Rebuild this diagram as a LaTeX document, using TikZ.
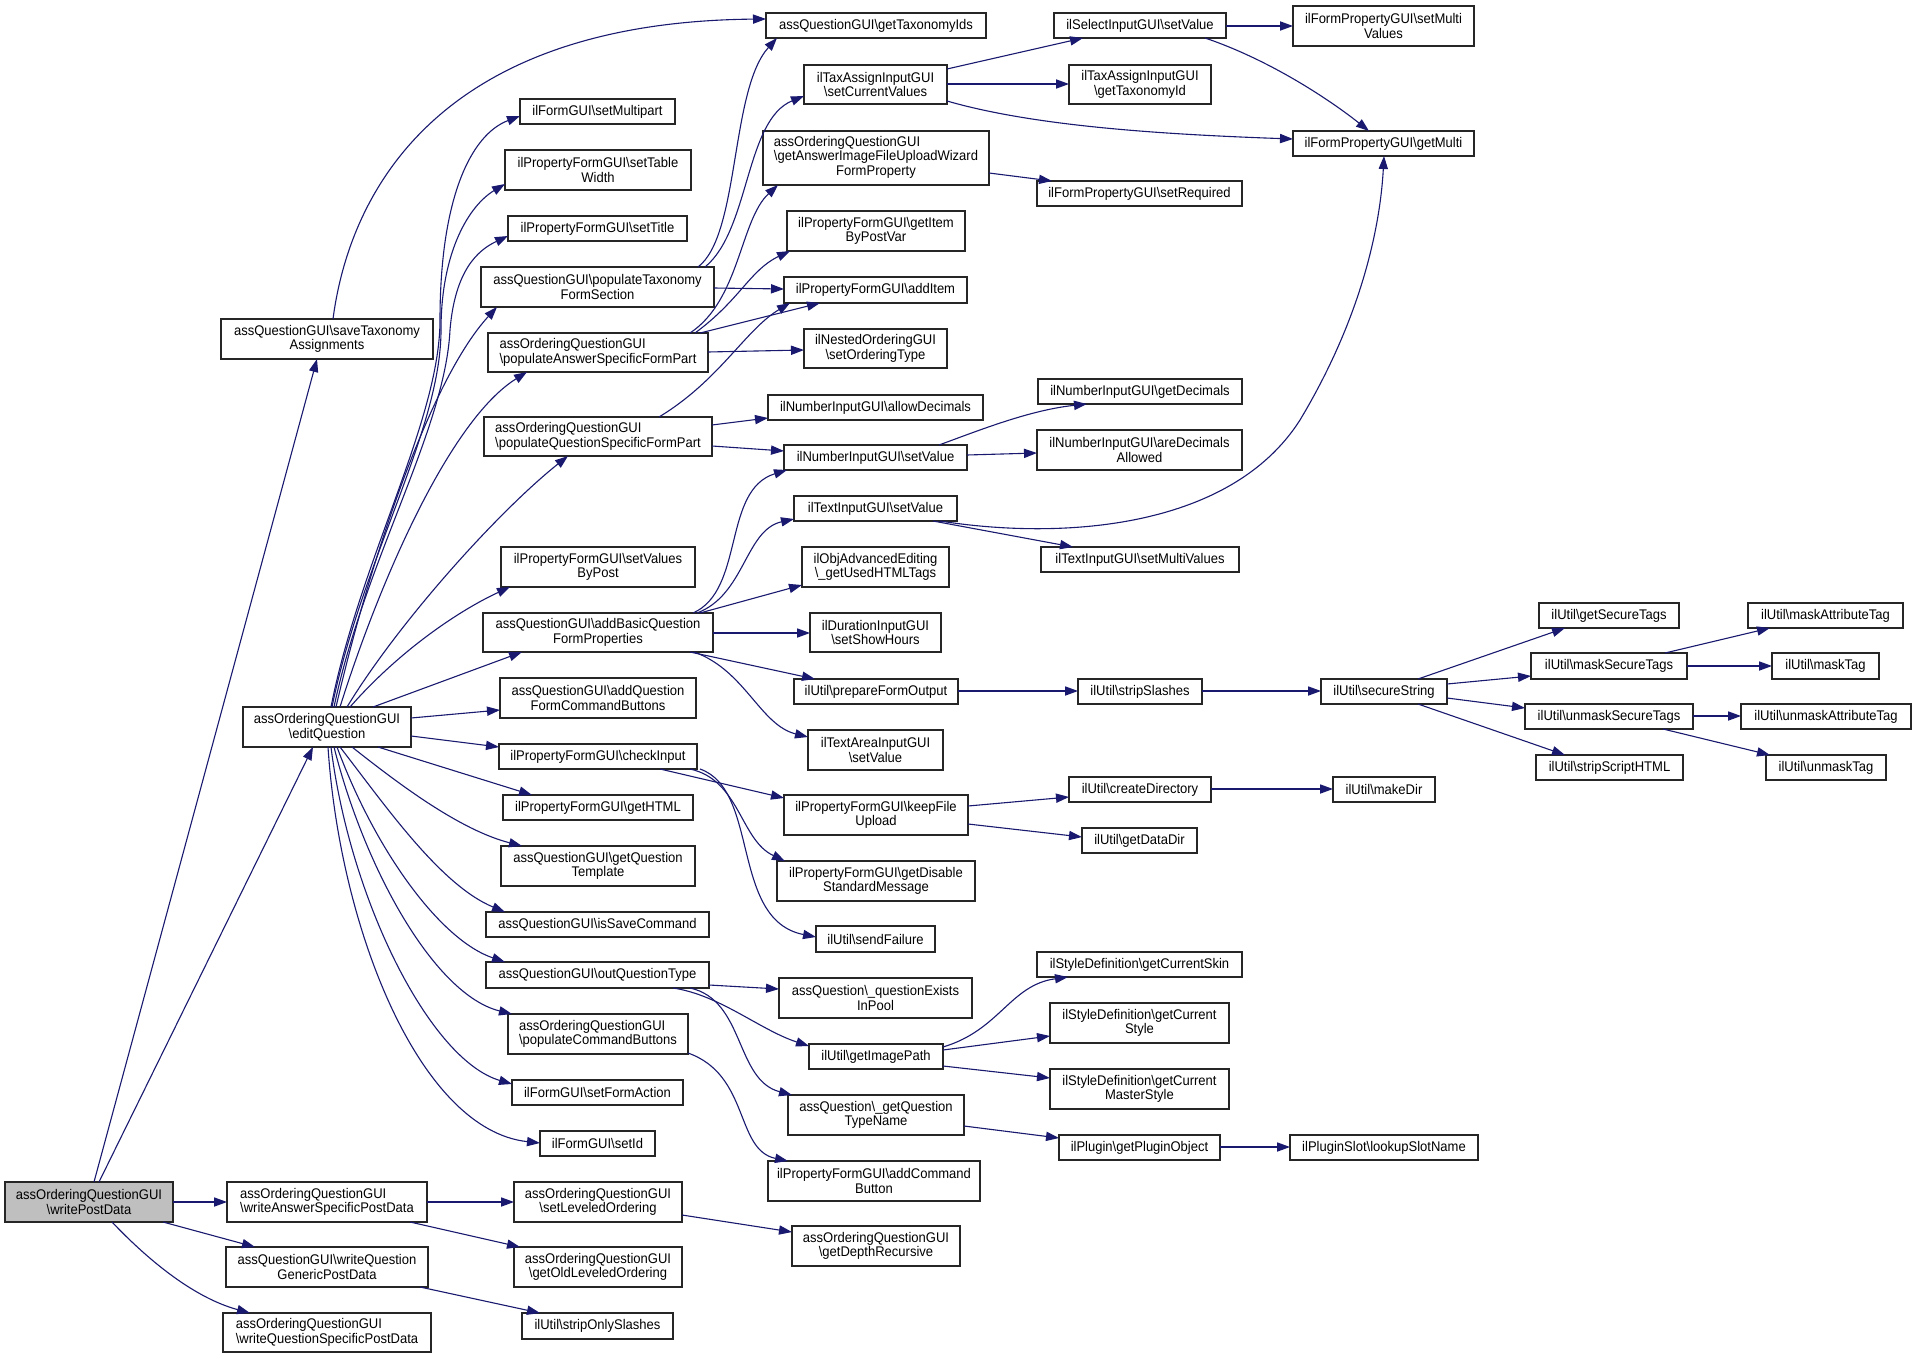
\documentclass[tikz,border=0pt]{standalone}
\usepackage{fontspec}
\setmainfont{Liberation Sans}[FakeStretch=0.93]
\usetikzlibrary{arrows.meta,calc}
\definecolor{dblue}{HTML}{191970}
\newcommand{\bks}{\textbackslash}
\newcommand{\mybox}[7][]{\node[box,#1,minimum width={(#5-#3)*0.5pt},minimum height={(#6-#4)*0.5pt}] (#2) at ({(#3+#5)/2},{(#4+#6)/2}) {#7};}
\tikzset{
  box/.style={draw=black!85,line width=0.6pt,fill=white,inner sep=0pt,outer sep=0pt,align=center,font=\fontsize{7}{7.3}\selectfont},
  edge/.style={draw=dblue,line width=0.55pt,-{Triangle[length=6.5pt,width=4.6pt]}}
}
\begin{document}
\begin{tikzpicture}[x=0.5pt,y=-0.5pt]
\fill[white] (0,0) rectangle (1916,1359);
\useasboundingbox (0,0) rectangle (1916,1359);
% nodes
\mybox[fill=gray!50]{wpd}{5}{1182}{173}{1222}{assOrderingQuestionGUI\\\bks writePostData}
\mybox{sta}{221}{319}{433}{359}{assQuestionGUI\bks saveTaxonomy\\Assignments}
\mybox{edq}{243}{707}{411}{747}{assOrderingQuestionGUI\\\bks editQuestion}
\mybox[align=left]{wasp}{227}{1182}{427}{1222}{assOrderingQuestionGUI\\\bks writeAnswerSpecificPostData}
\mybox{wqgp}{226}{1247}{428}{1287}{assQuestionGUI\bks writeQuestion\\GenericPostData}
\mybox[align=left]{wqsp}{223}{1313}{431}{1352}{assOrderingQuestionGUI\\\bks writeQuestionSpecificPostData}
\mybox{gti}{766}{13}{986}{38}{assQuestionGUI\bks getTaxonomyIds}
\mybox{smp}{520}{99}{675}{124}{ilFormGUI\bks setMultipart}
\mybox{stw}{505}{150}{691}{190}{ilPropertyFormGUI\bks setTable\\Width}
\mybox{stt}{508}{216}{687}{241}{ilPropertyFormGUI\bks setTitle}
\mybox{ptfs}{481}{267}{714}{307}{assQuestionGUI\bks populateTaxonomy\\FormSection}
\mybox[align=left]{pasf}{488}{333}{708}{372}{assOrderingQuestionGUI\\\bks populateAnswerSpecificFormPart}
\mybox[align=left]{pqsf}{484}{417}{712}{456}{assOrderingQuestionGUI\\\bks populateQuestionSpecificFormPart}
\mybox{svbp}{501}{547}{695}{587}{ilPropertyFormGUI\bks setValues\\ByPost}
\mybox{abqf}{483}{613}{713}{652}{assQuestionGUI\bks addBasicQuestion\\FormProperties}
\mybox{aqfc}{500}{678}{696}{718}{assQuestionGUI\bks addQuestion\\FormCommandButtons}
\mybox{chk}{499}{744}{697}{769}{ilPropertyFormGUI\bks checkInput}
\mybox{ghtml}{503}{795}{693}{820}{ilPropertyFormGUI\bks getHTML}
\mybox{gqt}{501}{846}{695}{886}{assQuestionGUI\bks getQuestion\\Template}
\mybox{isc}{486}{912}{709}{937}{assQuestionGUI\bks isSaveCommand}
\mybox{oqt}{486}{962}{709}{988}{assQuestionGUI\bks outQuestionType}
\mybox[align=left]{pcb}{508}{1014}{688}{1054}{assOrderingQuestionGUI\\\bks populateCommandButtons}
\mybox{sfa}{512}{1080}{683}{1105}{ilFormGUI\bks setFormAction}
\mybox{sid}{540}{1131}{655}{1156}{ilFormGUI\bks setId}
\mybox{slo}{514}{1182}{682}{1222}{assOrderingQuestionGUI\\\bks setLeveledOrdering}
\mybox{golo}{514}{1247}{682}{1287}{assOrderingQuestionGUI\\\bks getOldLeveledOrdering}
\mybox{sos}{522}{1313}{673}{1339}{ilUtil\bks stripOnlySlashes}
\mybox{scv}{804}{65}{947}{104}{ilTaxAssignInputGUI\\\bks setCurrentValues}
\mybox{gaif}{763}{131}{989}{185}{\begin{tabular}{@{}l@{}}assOrderingQuestionGUI\\\bks getAnswerImageFileUploadWizard\\\multicolumn{1}{@{}c@{}}{FormProperty}\end{tabular}}
\mybox{gibp}{787}{211}{965}{251}{ilPropertyFormGUI\bks getItem\\ByPostVar}
\mybox{adi}{784}{277}{967}{303}{ilPropertyFormGUI\bks addItem}
\mybox{sot}{804}{329}{947}{368}{ilNestedOrderingGUI\\\bks setOrderingType}
\mybox{ald}{768}{395}{983}{420}{ilNumberInputGUI\bks allowDecimals}
\mybox{nsv}{784}{445}{967}{470}{ilNumberInputGUI\bks setValue}
\mybox{tsv}{794}{496}{957}{521}{ilTextInputGUI\bks setValue}
\mybox{oae}{802}{547}{949}{587}{ilObjAdvancedEditing\\\bks\_getUsedHTMLTags}
\mybox{ssh}{810}{613}{941}{652}{ilDurationInputGUI\\\bks setShowHours}
\mybox{pfo}{794}{679}{958}{704}{ilUtil\bks prepareFormOutput}
\mybox{tasv}{808}{730}{943}{770}{ilTextAreaInputGUI\\\bks setValue}
\mybox{kfu}{784}{795}{968}{835}{ilPropertyFormGUI\bks keepFile\\Upload}
\mybox{gdsm}{777}{861}{975}{901}{ilPropertyFormGUI\bks getDisable\\StandardMessage}
\mybox{sf}{816}{926}{935}{952}{ilUtil\bks sendFailure}
\mybox{qeip}{779}{978}{972}{1018}{assQuestion\bks\_questionExists\\InPool}
\mybox{gip}{809}{1044}{943}{1069}{ilUtil\bks getImagePath}
\mybox{gqtn}{788}{1095}{964}{1135}{assQuestion\bks\_getQuestion\\TypeName}
\mybox{acb}{768}{1161}{980}{1201}{ilPropertyFormGUI\bks addCommand\\Button}
\mybox{gdr}{792}{1226}{960}{1266}{assOrderingQuestionGUI\\\bks getDepthRecursive}
\mybox{ssv}{1054}{13}{1226}{38}{ilSelectInputGUI\bks setValue}
\mybox{gtid}{1069}{65}{1211}{104}{ilTaxAssignInputGUI\\\bks getTaxonomyId}
\mybox{sreq}{1037}{181}{1242}{206}{ilFormPropertyGUI\bks setRequired}
\mybox{gdec}{1038}{379}{1242}{404}{ilNumberInputGUI\bks getDecimals}
\mybox{ada}{1037}{430}{1242}{470}{ilNumberInputGUI\bks areDecimals\\Allowed}
\mybox{tsmv}{1041}{547}{1239}{572}{ilTextInputGUI\bks setMultiValues}
\mybox{ssl}{1078}{679}{1202}{704}{ilUtil\bks stripSlashes}
\mybox{cdir}{1069}{777}{1211}{802}{ilUtil\bks createDirectory}
\mybox{gdd}{1082}{828}{1197}{853}{ilUtil\bks getDataDir}
\mybox{gcs}{1037}{952}{1242}{977}{ilStyleDefinition\bks getCurrentSkin}
\mybox{gcst}{1050}{1003}{1229}{1043}{ilStyleDefinition\bks getCurrent\\Style}
\mybox{gcms}{1050}{1069}{1229}{1109}{ilStyleDefinition\bks getCurrent\\MasterStyle}
\mybox{gpo}{1059}{1135}{1220}{1160}{ilPlugin\bks getPluginObject}
\mybox{fsmv}{1293}{6}{1474}{46}{ilFormPropertyGUI\bks setMulti\\Values}
\mybox{gmul}{1293}{131}{1474}{156}{ilFormPropertyGUI\bks getMulti}
\mybox{sst}{1321}{679}{1447}{704}{ilUtil\bks secureString}
\mybox{mkd}{1333}{777}{1435}{802}{ilUtil\bks makeDir}
\mybox{lsn}{1290}{1135}{1478}{1160}{ilPluginSlot\bks lookupSlotName}
\mybox{gst}{1539}{603}{1679}{628}{ilUtil\bks getSecureTags}
\mybox{mst}{1531}{653}{1687}{679}{ilUtil\bks maskSecureTags}
\mybox{ust}{1525}{704}{1693}{729}{ilUtil\bks unmaskSecureTags}
\mybox{sshtml}{1536}{755}{1683}{780}{ilUtil\bks stripScriptHTML}
\mybox{mat}{1748}{603}{1903}{628}{ilUtil\bks maskAttributeTag}
\mybox{mtg}{1772}{653}{1879}{679}{ilUtil\bks maskTag}
\mybox{uat}{1741}{704}{1911}{729}{ilUtil\bks unmaskAttributeTag}
\mybox{utg}{1766}{755}{1886}{780}{ilUtil\bks unmaskTag}
% edges from writePostData
\draw[edge] (wpd.north -| 94,0) -- (sta.south -| 317,0);
\draw[edge] (wpd.north -| 99,0) -- (edq.south -| 313,0);
\draw[edge] (wpd.east |- 0,1202) -- (wasp.west |- 0,1202);
\draw[edge] (wpd.south -| 163,0) -- (wqgp.north -| 255,0);
\draw[edge] (wpd.south -| 112,0) .. controls (150,1262) and (195,1298) .. (wqsp.north -| 250,0);
\draw[edge] (wasp.east |- 0,1202) -- (slo.west |- 0,1202);
\draw[edge] (wasp.south -| 410,0) -- (golo.north -| 520,0);
\draw[edge] (wqgp.south -| 420,0) -- (sos.north -| 540,0);
\draw[edge] (slo.east |- 0,1215) -- (gdr.west |- 0,1232);
\draw[edge] (sta.north -| 333,0) .. controls (350,190) and (440,22) .. (gti.west |- 0,19);
% edges from editQuestion
\draw[edge] (edq.north -| 331,0) .. controls (360,560) and (440,420) .. (440,320) .. controls (440,200) and (470,135) .. (smp.west |- 0,116);
\draw[edge] (edq.north -| 332,0) .. controls (362,560) and (441,430) .. (441,330) .. controls (441,250) and (470,205) .. (stw.west |- 0,184);
\draw[edge] (edq.north -| 334,0) .. controls (365,560) and (445,430) .. (450,330) .. controls (455,270) and (478,250) .. (stt.west |- 0,236);
\draw[edge] (edq.north -| 336,0) .. controls (370,560) and (430,380) .. (ptfs.south -| 497,0);
\draw[edge] (edq.north -| 340,0) .. controls (380,580) and (450,420) .. (pasf.south -| 527,0);
\draw[edge] (edq.north -| 347,0) .. controls (400,620) and (500,510) .. (pqsf.south -| 568,0);
\draw[edge] (edq.north -| 350,0) .. controls (400,650) and (460,610) .. (svbp.south -| 510,0);
\draw[edge] (edq.north -| 373,0) -- (abqf.south -| 522,0);
\draw[edge] (edq.east |- 0,718) -- (aqfc.west |- 0,710);
\draw[edge] (edq.east |- 0,736) -- (chk.west |- 0,747);
\draw[edge] (edq.south -| 378,0) -- (ghtml.north -| 532,0);
\draw[edge] (edq.south -| 352,0) .. controls (400,785) and (460,830) .. (gqt.north -| 522,0);
\draw[edge] (edq.south -| 340,0) .. controls (385,805) and (440,885) .. (isc.north -| 505,0);
\draw[edge] (edq.south -| 337,0) .. controls (375,850) and (440,940) .. (oqt.north -| 505,0);
\draw[edge] (edq.south -| 334,0) .. controls (365,870) and (435,995) .. (pcb.north -| 512,0);
\draw[edge] (edq.south -| 331,0) .. controls (350,900) and (430,1060) .. (sfa.west |- 0,1084);
\draw[edge] (edq.south -| 328,0) .. controls (340,930) and (420,1130) .. (sid.west |- 0,1143);
% column 2 -> 3
\draw[edge] (ptfs.north -| 698,0) .. controls (740,235) and (730,90) .. (gti.south -| 777,0);
\draw[edge] (ptfs.north -| 705,0) .. controls (750,230) and (745,120) .. (scv.west |- 0,96);
\draw[edge] (ptfs.east |- 0,288) -- (adi.west |- 0,289);
\draw[edge] (pasf.north -| 690,0) .. controls (740,300) and (740,220) .. (gaif.south -| 778,0);
\draw[edge] (pasf.north -| 695,0) .. controls (740,300) and (750,270) .. (gibp.south -| 790,0);
\draw[edge] (pasf.north -| 700,0) -- (adi.south -| 820,0);
\draw[edge] (pasf.east |- 0,352) -- (sot.west |- 0,350);
\draw[edge] (pqsf.north -| 659,0) .. controls (720,380) and (745,330) .. (adi.south -| 790,0);
\draw[edge] (pqsf.east |- 0,425) -- (ald.west |- 0,418);
\draw[edge] (pqsf.east |- 0,446) -- (nsv.west |- 0,451);
\draw[edge] (abqf.north -| 693,0) .. controls (745,590) and (722,490) .. (nsv.south -| 787,0);
\draw[edge] (abqf.north -| 697,0) .. controls (745,595) and (745,530) .. (tsv.west |- 0,519);
\draw[edge] (abqf.north -| 700,0) -- (oae.west |- 0,585);
\draw[edge] (abqf.east |- 0,633) -- (ssh.west |- 0,633);
\draw[edge] (abqf.south -| 690,0) -- (pfo.north -| 815,0);
\draw[edge] (abqf.south -| 694,0) .. controls (745,670) and (760,725) .. (tasv.west |- 0,737);
\draw[edge] (chk.south -| 660,0) -- (kfu.west |- 0,798);
\draw[edge] (chk.south -| 690,0) .. controls (740,780) and (740,840) .. (gdsm.north -| 785,0);
\draw[edge] (chk.south -| 700,0) .. controls (760,790) and (730,920) .. (sf.west |- 0,937);
\draw[edge] (oqt.east |- 0,985) -- (qeip.west |- 0,989);
\draw[edge] (oqt.south -| 673,0) .. controls (720,995) and (760,1030) .. (gip.west |- 0,1046);
\draw[edge] (oqt.south -| 690,0) .. controls (745,1000) and (735,1080) .. (gqtn.north -| 792,0);
\draw[edge] (pcb.east |- 0,1053) .. controls (750,1075) and (735,1150) .. (acb.north -| 788,0);
% column 3 -> 4
\draw[edge] (scv.east |- 0,69) -- (ssv.south -| 1083,0);
\draw[edge] (scv.east |- 0,84) -- (gtid.west |- 0,84);
\draw[edge] (scv.east |- 0,101) .. controls (1030,125) and (1150,134) .. (gmul.west |- 0,139);
\draw[edge] (ssv.east |- 0,26) -- (fsmv.west |- 0,26);
\draw[edge] (ssv.south -| 1205,0) .. controls (1270,60) and (1330,100) .. (gmul.north -| 1369,0);
\draw[edge] (gaif.east |- 0,173) -- (sreq.north -| 1052,0);
\draw[edge] (nsv.north -| 939,0) .. controls (980,430) and (1030,410) .. (gdec.south -| 1087,0);
\draw[edge] (nsv.east |- 0,455) -- (ada.west |- 0,453);
\draw[edge] (tsv.south -| 933,0) -- (tsmv.north -| 1073,0);
\draw[edge] (tsv.south -| 940,0) .. controls (1060,540) and (1230,530) .. (1300,420) .. controls (1360,320) and (1380,230) .. (gmul.south -| 1384,0);
\draw[edge] (kfu.east |- 0,806) -- (cdir.west |- 0,797);
\draw[edge] (kfu.east |- 0,824) -- (gdd.west |- 0,837);
\draw[edge] (cdir.east |- 0,789) -- (mkd.west |- 0,789);
\draw[edge] (pfo.east |- 0,691) -- (ssl.west |- 0,691);
\draw[edge] (ssl.east |- 0,691) -- (sst.west |- 0,691);
\draw[edge] (sst.north -| 1418,0) -- (gst.south -| 1565,0);
\draw[edge] (sst.east |- 0,684) -- (mst.west |- 0,676);
\draw[edge] (sst.east |- 0,698) -- (ust.west |- 0,708);
\draw[edge] (sst.south -| 1418,0) -- (sshtml.north -| 1565,0);
\draw[edge] (mst.north -| 1665,0) -- (mat.south -| 1770,0);
\draw[edge] (mst.east |- 0,666) -- (mtg.west |- 0,666);
\draw[edge] (ust.east |- 0,716) -- (uat.west |- 0,716);
\draw[edge] (ust.south -| 1663,0) -- (utg.north -| 1770,0);
\draw[edge] (gip.east |- 0,1047) .. controls (1000,1030) and (1010,985) .. (gcs.south -| 1068,0);
\draw[edge] (gip.east |- 0,1050) -- (gcst.west |- 0,1036);
\draw[edge] (gip.east |- 0,1066) -- (gcms.west |- 0,1078);
\draw[edge] (gqtn.east |- 0,1126) -- (gpo.west |- 0,1138);
\draw[edge] (gpo.east |- 0,1147) -- (lsn.west |- 0,1147);
\end{tikzpicture}
\end{document}
